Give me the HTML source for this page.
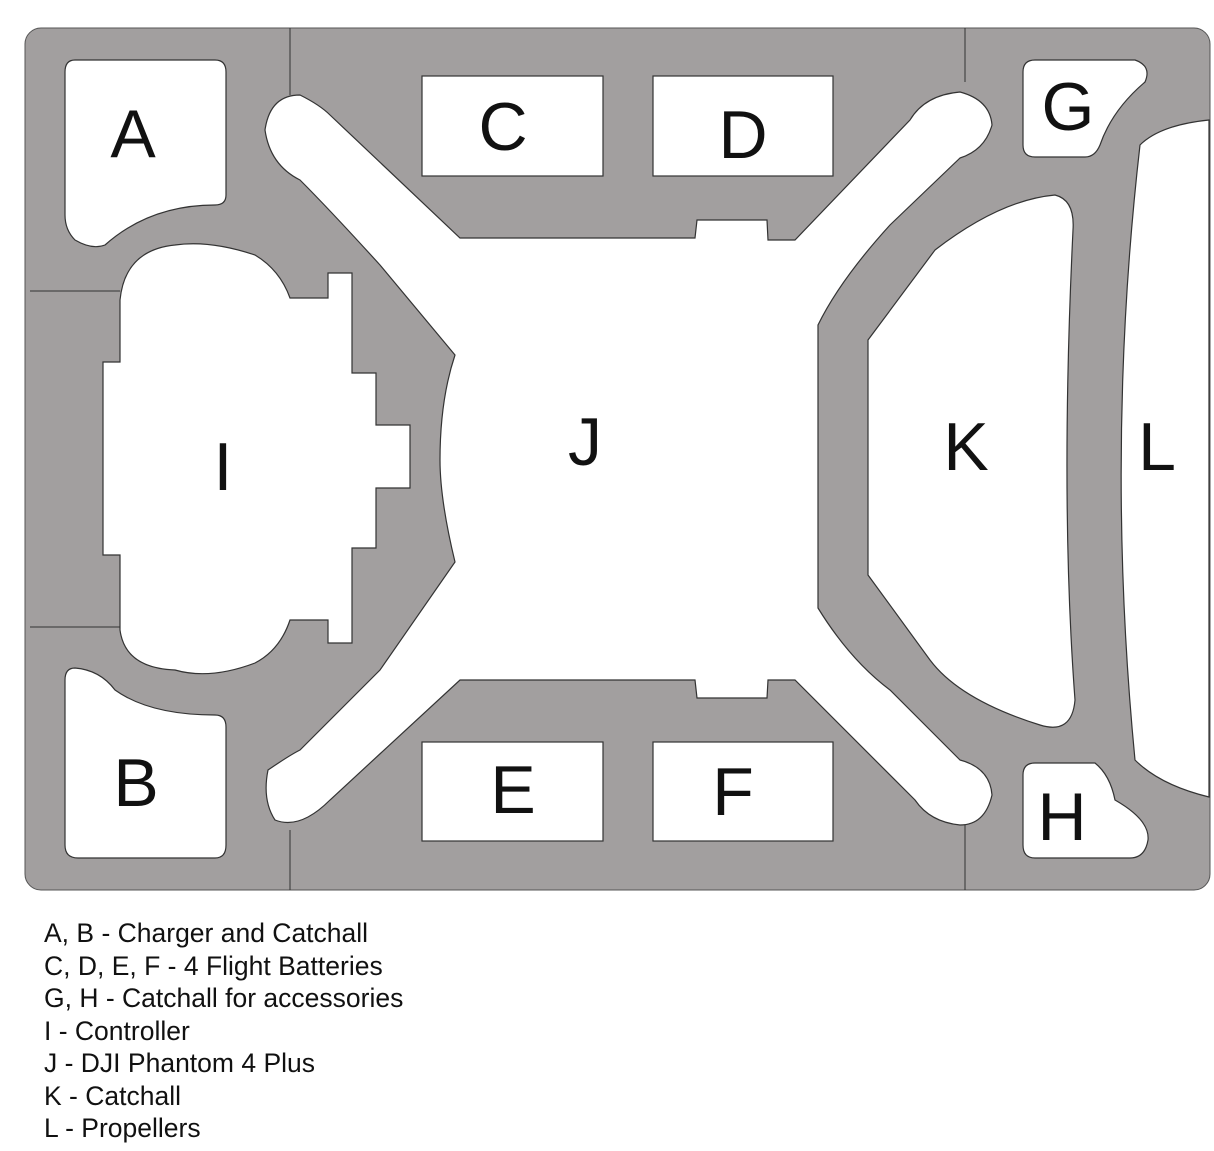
<!DOCTYPE html>
<html><head><style>
body{margin:0;background:#fff;width:1214px;height:1151px;overflow:hidden}
svg{display:block}
.c{fill:#fff;stroke:#333;stroke-width:1.2}
.big{font-family:"Liberation Sans",sans-serif;font-size:68px;fill:#111;text-anchor:middle}
.leg{font-family:"Liberation Sans",sans-serif;font-size:26.5px;fill:#111}
</style></head><body>
<svg width="1214" height="1151" viewBox="0 0 1214 1151">
<rect x="25" y="28" width="1185" height="862" rx="16" fill="#a29f9f" stroke="#555" stroke-width="1"/>
<g stroke="#333" stroke-width="1">
<line x1="290" y1="28" x2="290" y2="95"/><line x1="290" y1="830" x2="290" y2="890"/>
<line x1="965" y1="28" x2="965" y2="82"/><line x1="965" y1="825" x2="965" y2="890"/>
<line x1="30" y1="291" x2="120" y2="291"/><line x1="30" y1="627" x2="120" y2="627"/>
</g>
<path class="c" d="M75,60 H215 Q226,60 226,72 V195 Q226,205 215,205 Q150,205 105,245 Q92,250 75,240 Q65,230 65,215 V72 Q65,60 75,60Z"/>
<path class="c" d="M75,668 Q100,670 115,690 Q150,715 215,715 Q226,715 226,727 V845 Q226,858 215,858 H78 Q65,858 65,845 V680 Q65,668 75,668Z"/>
<rect class="c" x="422" y="76" width="181" height="100"/>
<rect class="c" x="653" y="76" width="180" height="100"/>
<rect class="c" x="422" y="742" width="181" height="99"/>
<rect class="c" x="653" y="742" width="180" height="99"/>
<path class="c" d="M1035,60 H1135 Q1152,66 1145,82 Q1112,110 1100,145 Q1095,157 1085,157 H1035 Q1023,157 1023,145 V72 Q1023,60 1035,60Z"/>
<path class="c" d="M1035,763 H1095 Q1110,775 1115,800 Q1150,820 1148,840 Q1145,858 1130,858 H1035 Q1023,858 1023,845 V775 Q1023,763 1035,763Z"/>
<path class="c" d="M1209,120 Q1160,125 1140,145 Q1105,450 1135,760 Q1160,785 1209,797 Z"/>
<path class="c" d="M1055,195 Q1075,200 1073,230 Q1060,500 1075,700 Q1072,735 1040,725 Q960,700 930,660 L868,575 V340 L935,250 Q1000,200 1055,195Z"/>
<path class="c" d="M460,238 L695,238 L697,220 L767,220 L768,240 L795,240 L910,120 Q925,95 960,92 Q990,100 992,125 Q985,150 960,158 L890,225 Q840,280 818,325 L818,608 Q850,660 890,690 L960,760 Q990,768 992,795 Q985,825 960,825 Q930,822 915,800 L795,680 L768,680 L767,698 L697,698 L695,680 L460,680 L330,800 Q300,830 275,820 Q262,800 268,770 Q290,755 300,750 L380,670 L455,562 Q440,500 440,460 Q440,400 455,355 L380,265 Q330,210 300,180 Q270,165 265,130 Q270,95 300,95 Q320,105 330,115 Z"/>
<path class="c" d="M175,245 Q210,240 255,255 Q280,270 290,298 L328,298 L328,273 L352,273 L352,373 L376,373 L376,425 L410,425 L410,488 L376,488 L376,548 L352,548 L352,643 L328,643 L328,620 L290,620 Q280,650 255,663 Q210,680 175,670 Q125,668 120,630 L120,555 L103,555 L103,362 L120,362 L120,300 Q125,250 175,245Z"/>
<text class="big" x="133" y="157">A</text>
<text class="big" x="136" y="806">B</text>
<text class="big" x="503" y="150">C</text>
<text class="big" x="743" y="158">D</text>
<text class="big" x="513" y="813">E</text>
<text class="big" x="733" y="815">F</text>
<text class="big" x="1068" y="130">G</text>
<text class="big" x="1062" y="840">H</text>
<text class="big" x="223" y="490">I</text>
<text class="big" x="585" y="465">J</text>
<text class="big" x="966" y="470">K</text>
<text class="big" x="1157" y="470">L</text>
<text class="leg" x="44" y="942">A, B - Charger and Catchall</text>
<text class="leg" x="44" y="975">C, D, E, F - 4 Flight Batteries</text>
<text class="leg" x="44" y="1007">G, H - Catchall for accessories</text>
<text class="leg" x="44" y="1040">I - Controller</text>
<text class="leg" x="44" y="1072">J - DJI Phantom 4 Plus</text>
<text class="leg" x="44" y="1105">K - Catchall</text>
<text class="leg" x="44" y="1137">L - Propellers</text>
</svg>
</body></html>
